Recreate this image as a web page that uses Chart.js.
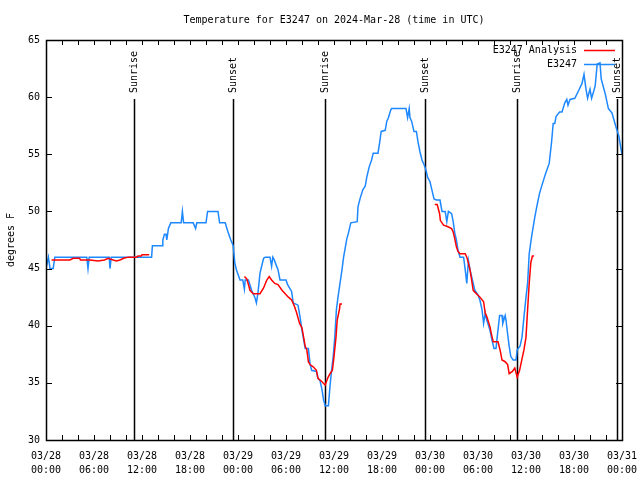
<!DOCTYPE html>
<html>
<head>
<meta charset="utf-8">
<script src="https://cdn.jsdelivr.net/npm/chart.js@4"></script>
<style>
  body { margin: 0; background: #fff; }
</style>
</head>
<body>
<canvas id="tempChart" width="640" height="480"></canvas>
<script>
// hours since 2024-03-28 00:00 UTC
const obsHours = [0, 0.3, 0.5, 0.9, 1.1, 5.1, 5.25, 5.4, 7.9, 8.0, 8.15, 13.2, 13.3, 14.5, 14.6, 14.8, 15.0, 15.1, 15.3, 15.6,
  16.9, 17.05, 17.2, 18.4, 18.7, 18.85, 20.0, 20.2, 21.5, 21.7, 22.4, 22.75, 23.1, 23.4, 23.6, 23.8, 24.25, 24.6, 24.8, 24.9,
  25.3, 25.7, 26.1, 26.3, 26.5, 26.75, 27.2, 27.4, 28, 28.2, 28.35, 28.5, 29.0, 29.25, 30, 30.2, 30.7, 30.9, 31.5, 31.75,
  32, 32.4, 32.8, 33, 33.2, 33.8, 34, 34.25, 34.5, 34.7, 34.9, 35.3, 35.5, 35.7, 35.9, 36.1, 36.3, 36.5, 36.75, 37,
  37.2, 37.6, 37.8, 38.1, 38.9, 39.0, 39.25, 39.6, 39.9, 40.1, 40.4, 40.7, 40.9, 41.5, 41.7, 41.9, 42.4, 42.6, 42.8, 43.1,
  43.2, 45, 45.2, 45.4, 45.5, 45.7, 46, 46.3, 46.5, 46.75, 47, 47.25, 47.5, 47.7, 48, 48.2, 48.5, 48.8, 49.25, 49.5,
  49.9, 50.1, 50.3, 50.7, 50.9, 51.1, 51.3, 51.5, 51.75, 52.2, 52.4, 52.6, 52.8, 53, 53.3, 53.6, 54, 54.25, 54.5, 54.7,
  54.9, 55.1, 55.5, 55.7, 56, 56.25, 56.4, 56.7, 57.0, 57.1, 57.4, 57.5, 57.7, 57.9, 58.1, 58.4, 58.75, 58.9, 59.25, 59.5,
  59.75, 60, 60.2, 60.4, 60.7, 61.1, 61.4, 61.7, 62.0, 62.4, 62.9, 63.2, 63.4, 63.6, 63.75, 64.2, 64.5, 64.85, 65.1, 65.25,
  65.5, 66.1, 66.6, 67.0, 67.25, 67.5, 67.7, 68.0, 68.2, 68.5, 68.65, 68.9, 69.25, 69.4, 69.9, 70.3, 70.75, 71.2, 71.6, 72];
const obsTemps = [45, 46, 45, 45, 46, 46, 45, 46, 46, 45, 46, 46, 47, 47, 47.5, 48, 48, 47.5, 48.5, 49,
  49, 50, 49, 49, 48.5, 49, 49, 50, 50, 49, 49, 48.2, 47.5, 47, 45.5, 44.9, 44, 44, 43.2, 44,
  44, 43.1, 42.5, 42, 42.9, 44.6, 45.9, 46, 46, 45.2, 46, 45.8, 44.9, 44, 44, 43.6, 43, 42, 41.8, 40.8,
  39.6, 38, 38, 36.7, 36.1, 36, 35.4, 35.2, 34.4, 33.5, 33, 33, 34.7, 36.1, 37.3, 39, 41.4, 42.5, 43.7, 44.9,
  46, 47.6, 48.1, 49, 49.1, 50.4, 51.1, 51.9, 52.2, 53, 53.9, 54.5, 55.1, 55.1, 56, 57, 57.1, 57.9, 58.2, 58.9,
  59, 59, 58.2, 59, 58.2, 57.9, 57, 57, 56.1, 55.2, 54.5, 54.1, 53.6, 53, 52.6, 52, 51.1, 51, 51, 50,
  50, 49.1, 50, 49.8, 49.1, 48.1, 47.5, 46.6, 46, 46, 44.9, 43.7, 45.7, 44.9, 44, 43.1, 42.7, 42.2, 41.4, 40.2,
  41.1, 40.5, 39.6, 38.9, 38, 38, 39, 40.9, 40.9, 40.2, 40.9, 40.5, 39.3, 38.2, 37.3, 37, 37, 37.9, 38.2, 39,
  40.8, 42.5, 43.7, 46.3, 47.8, 49.5, 50.6, 51.6, 52.3, 53.2, 54.2, 56.1, 57.7, 57.7, 58.3, 58.7, 58.7, 59.5, 59.8, 59.3,
  59.8, 59.9, 60.6, 61.2, 62, 60.7, 59.9, 60.7, 59.9, 60.6, 61, 62.9, 63, 61.6, 60.3, 59, 58.6, 57.5, 56.6, 55];

// analysis runs (null = gap)
const anaHours = [0.7, 3, 3.4, 4.2, 4.3, 5.5, 6.5, 7.3, 7.8, 8.4, 8.8, 9.25, 9.7, 10.3, 11.3, 11.5, 11.9, 12.0, 12.9, 18,
  24.8, 25.1, 25.3, 25.5, 25.9, 26.75, 27.2, 27.6, 27.9, 28.2, 28.6, 29.0, 29.5, 29.9, 30.3, 30.7, 31, 31.3, 31.7, 32,
  32.2, 32.4, 32.6, 32.8, 33, 33.4, 33.8, 34, 34.5, 34.9, 35.2, 35.5, 35.8, 36, 36.25, 36.4, 36.7, 36.75, 37.0, 42,
  48.6, 48.9, 49.2, 49.3, 49.7, 50.1, 50.7, 50.9, 51.1, 51.3, 51.5, 51.75, 52.4, 52.6, 52.8, 53, 53.2, 53.4, 53.8, 54.25,
  54.7, 54.9, 55.1, 55.3, 55.5, 55.7, 55.9, 56.5, 56.75, 57.0, 57.4, 57.7, 57.9, 58.3, 58.6, 58.9, 59.2, 59.5, 59.75, 60,
  60.2, 60.4, 60.6, 60.8, 61];
const anaTemps = [45.75, 45.75, 45.9, 45.9, 45.75, 45.75, 45.66, 45.75, 45.9, 45.75, 45.66, 45.75, 45.9, 46, 46, 46.1, 46.1, 46.2, 46.2, null,
  44.3, 44.1, 43.6, 43.1, 42.8, 42.8, 43.3, 44, 44.3, 44, 43.7, 43.6, 43.1, 42.8, 42.5, 42.25, 41.8, 41.2, 40.2, 39.8,
  39, 38.2, 37.9, 36.85, 36.6, 36.4, 36.1, 35.4, 35.1, 34.8, 35.4, 35.8, 36.1, 37.3, 39, 40.5, 41.5, 41.9, 41.9, null,
  50.6, 50.6, 49.8, 49.2, 48.8, 48.7, 48.5, 48.2, 47.6, 46.9, 46.5, 46.3, 46.3, 46, 45.5, 44.9, 44, 43.1, 42.8, 42.5,
  42.1, 41.1, 40.8, 40.35, 39.9, 39.2, 38.6, 38.6, 37.9, 37, 36.85, 36.6, 35.8, 36, 36.3, 35.5, 36.1, 37.1, 37.9, 39,
  41.4, 43.7, 45.5, 46.1, 46.1];

const sunHours = [11.0, 23.375, 34.875, 47.375, 58.875, 71.375];
const sunLabels = ['Sunrise', 'Sunset', 'Sunrise', 'Sunset', 'Sunrise', 'Sunset'];

const FONT = '10px "DejaVu Sans Mono", "Liberation Mono", monospace';

function toPoints(xs, ys) {
  return xs.map((x, i) => ({ x: x, y: ys[i] }));
}

// gnuplot-ish frame, inward ticks, sun markers, title, legend
const decorations = {
  id: 'decorations',
  beforeDatasetsDraw(chart) {
    const ctx = chart.ctx;
    const xs = chart.scales.x;
    const a = chart.chartArea;
    ctx.save();
    ctx.fillStyle = '#000';
    ctx.strokeStyle = '#000';
    ctx.lineWidth = 1.5;
    ctx.font = FONT;
    sunHours.forEach((h, i) => {
      const px = Math.round(xs.getPixelForValue(h)) + 0.5;
      ctx.beginPath();
      ctx.moveTo(px, 99);
      ctx.lineTo(px, a.bottom);
      ctx.stroke();
      ctx.save();
      ctx.translate(px, 93);
      ctx.rotate(-Math.PI / 2);
      ctx.textAlign = 'left';
      ctx.textBaseline = 'middle';
      ctx.fillText(sunLabels[i], 0, 0);
      ctx.restore();
    });
    ctx.restore();
  },
  afterDraw(chart) {
    const ctx = chart.ctx;
    const xs = chart.scales.x;
    const ys = chart.scales.y;
    const a = chart.chartArea;
    ctx.save();
    ctx.strokeStyle = '#000';
    ctx.lineWidth = 1;
    ctx.beginPath();
    for (let h = 0; h <= 72; h += 2) {
      const px = Math.round(xs.getPixelForValue(h)) + 0.5;
      ctx.moveTo(px, a.bottom); ctx.lineTo(px, a.bottom - 5);
      ctx.moveTo(px, a.top); ctx.lineTo(px, a.top + 5);
    }
    for (let v = 30; v <= 65; v += 5) {
      const py = Math.round(ys.getPixelForValue(v)) + 0.5;
      ctx.moveTo(a.left, py); ctx.lineTo(a.left + 6, py);
      ctx.moveTo(a.right, py); ctx.lineTo(a.right - 6, py);
    }
    ctx.stroke();
    ctx.lineWidth = 1.5;
    ctx.strokeRect(Math.round(a.left) + 0.5, Math.round(a.top) + 0.5,
      Math.round(a.right - a.left), Math.round(a.bottom - a.top));

    ctx.fillStyle = '#000';
    ctx.font = FONT;
    ctx.textAlign = 'center';
    ctx.textBaseline = 'middle';
    ctx.fillText('Temperature for E3247 on 2024-Mar-28 (time in UTC)', (a.left + a.right) / 2, 20);

    ctx.save();
    ctx.translate(11, 240);
    ctx.rotate(-Math.PI / 2);
    ctx.fillText('degrees F', 0, 0);
    ctx.restore();

    // legend
    const legend = [['E3247 Analysis', '#ff0000', 50], ['E3247', '#1e88ff', 64]];
    ctx.textAlign = 'right';
    legend.forEach(([label, color, y]) => {
      ctx.fillStyle = '#000';
      ctx.fillText(label, 577, y);
      ctx.strokeStyle = color;
      ctx.lineWidth = 1.5;
      ctx.beginPath();
      ctx.moveTo(584, y + 0.5);
      ctx.lineTo(615, y + 0.5);
      ctx.stroke();
    });
    ctx.restore();
  }
};

new Chart(document.getElementById('tempChart'), {
  type: 'line',
  data: {
    datasets: [
      {
        label: 'E3247 Analysis',
        data: toPoints(anaHours, anaTemps),
        borderColor: '#ff0000',
        borderWidth: 1.5,
        pointRadius: 0,
        spanGaps: false,
        tension: 0,
        order: 0
      },
      {
        label: 'E3247',
        data: toPoints(obsHours, obsTemps),
        borderColor: '#1e88ff',
        borderWidth: 1.5,
        pointRadius: 0,
        tension: 0,
        order: 1
      }
    ]
  },
  options: {
    responsive: false,
    animation: false,
    devicePixelRatio: 1,
    layout: { padding: { left: 0, right: 18, top: 40, bottom: 0 } },
    plugins: { legend: { display: false }, title: { display: false }, tooltip: { enabled: false } },
    scales: {
      x: {
        type: 'linear',
        min: 0,
        max: 72,
        afterFit(scale) {
          scale.height = 40;
          scale.paddingLeft = 0;
          scale.paddingRight = 0;
        },
        grid: { display: false, drawTicks: false },
        border: { display: false },
        ticks: {
          stepSize: 6,
          autoSkip: false,
          maxRotation: 0,
          padding: 9,
          color: '#000',
          font: { family: '"DejaVu Sans Mono", "Liberation Mono", monospace', size: 10, lineHeight: 1.4 },
          callback(v) {
            const day = 28 + Math.floor(v / 24);
            const hr = v % 24;
            return ['03/' + day, String(hr).padStart(2, '0') + ':00'];
          }
        }
      },
      y: {
        min: 30,
        max: 65,
        afterFit(scale) { scale.width = 46; },
        grid: { display: false, drawTicks: false },
        border: { display: false },
        ticks: {
          stepSize: 5,
          padding: 6,
          color: '#000',
          font: { family: '"DejaVu Sans Mono", "Liberation Mono", monospace', size: 10 }
        }
      }
    }
  },
  plugins: [decorations]
});
</script>
</body>
</html>
